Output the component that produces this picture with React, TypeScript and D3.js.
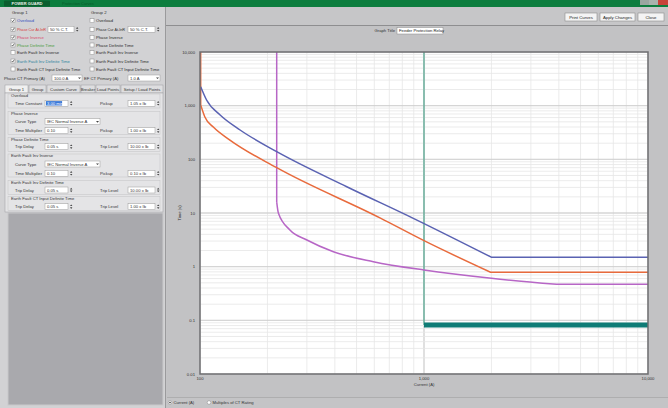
import React from 'react';
import * as d3 from 'd3';

const W = 668;
const H = 408;

// ---- Data (current in A, time in s) ----
const overloadCurrent = [100.7, 107, 123, 151, 220, 452, 896, 2005, 10000];
const overloadTime = [2254, 1274, 670, 352, 139, 30.9, 7.96, 1.49, 1.49];
const phaseInvCurrent = [100.7, 100.7, 105, 115, 136, 220, 636, 1000, 1985, 10000];
const phaseInvTime = [10000, 1028, 622, 395, 229, 69.8, 8.1, 3.05, 0.785, 0.785];
const earthInvCurrent = [220, 220, 224, 252, 300, 394, 594, 1000, 2000, 3908, 10000];
const earthInvTime = [10000, 16, 9.87, 4.82, 3.14, 1.9, 1.24, 0.866, 0.607, 0.469, 0.469];
const defTimeCurrent = [1000, 1000, 10000];
const defTimeTime = [10000, 0.082, 0.082];

const xTicks = [100, 1000, 10000];
const xTickLabels = ['100', '1,000', '10,000'];
const yTicks = [0.01, 0.1, 1, 10, 100, 1000, 10000];
const yTickLabels = ['0.01', '0.1', '1', '10', '100', '1,000', '10,000'];

const group1Labels = ['Overload', 'Phase Cur At-InR', 'Phase Inverse', 'Phase Definite Time', 'Earth Fault Inv Inverse', 'Earth Fault Inv Definite Time', 'Earth Fault CT Input Definite Time'];
const group1Checked = [true, true, true, true, false, true, false];
const group1Colors = ['#3550c0', '#d83a3a', '#d8486a', '#4c9c3c', '#2a2a2a', '#2f86a0', '#2a2a2a'];
const group2Labels = ['Overload', 'Phase Cur At-InR', 'Phase Inverse', 'Phase Definite Time', 'Earth Fault Inv Inverse', 'Earth Fault Inv Definite Time', 'Earth Fault CT Input Definite Time'];
const tabLabels = ['Group 1', 'Group', 'Custom Curve', 'Breaker', 'Load Points', 'Setup / Load Points'];

const FONT = '"Liberation Sans", Arial, sans-serif';

// plot geometry
const PL = 200, PR = 648, PT = 52, PB = 374;

function Check({ x, y, checked }: { x: number; y: number; checked: boolean }) {
  return (
    <g>
      <rect x={x} y={y - 2} width={4} height={4} fill="#fff" stroke="#8a8a8a" strokeWidth={0.5} />
      {checked && <path d={`M${x + 0.8},${y} L${x + 1.7},${y + 1.1} L${x + 3.3},${y - 1.3}`} fill="none" stroke="#333" strokeWidth={0.7} />}
    </g>
  );
}

function Field({ x, y, w, text, spin, drop, sel }: { x: number; y: number; w: number; text: string; spin?: boolean; drop?: boolean; sel?: boolean }) {
  return (
    <g>
      <rect x={x} y={y - 3} width={w} height={6} fill="#fff" stroke="#9a9a9a" strokeWidth={0.5} />
      {sel && <rect x={x + 1} y={y - 2.2} width={w * 0.7} height={4.4} fill="#3a78d8" />}
      <text x={x + 2} y={y + 1.6} fontSize={4.2} fill={sel ? '#fff' : '#333'}>{text}</text>
      {spin && (
        <g>
          <path d={`M${x + w + 2},${y - 0.6} l1.2,-1.6 l1.2,1.6 z`} fill="#444" />
          <path d={`M${x + w + 2},${y + 0.6} l1.2,1.6 l1.2,-1.6 z`} fill="#444" />
        </g>
      )}
      {drop && <path d={`M${x + w - 4},${y - 0.6} l1.5,1.6 l1.5,-1.6 z`} fill="#444" />}
    </g>
  );
}

function Btn({ x, y, w, h, text }: { x: number; y: number; w: number; h: number; text: string }) {
  return (
    <g>
      <rect x={x} y={y} width={w} height={h} fill="#f4f4f4" stroke="#8c8c8c" strokeWidth={0.6} />
      <text x={x + w / 2} y={y + h / 2 + 1.5} fontSize={4.3} textAnchor="middle" fill="#222">{text}</text>
    </g>
  );
}

export default function App() {
  const x = d3.scaleLog().domain([100, 10000]).range([PL, PR]);
  const y = d3.scaleLog().domain([0.01, 10000]).range([PB, PT]);

  const xGrid: number[] = [];
  for (let d = 100; d < 10000; d *= 10) for (let m = 1; m <= 10; m++) xGrid.push(d * m);
  const yGrid: number[] = [];
  for (let d = 0.01; d < 10000; d *= 10) for (let m = 1; m <= 10; m++) yGrid.push(+(d * m).toPrecision(6));
  const isMajor = (v: number) => Math.abs(Math.log10(v) - Math.round(Math.log10(v))) < 1e-6;

  const lin = d3.line<[number, number]>().curve(d3.curveLinear);
  const mono = d3.line<[number, number]>().curve(d3.curveMonotoneX);
  const pathFor = (cur: number[], time: number[], s0: number, s1: number) => {
    const pts = cur.map((c, i) => [x(c), y(time[i])] as [number, number]);
    let d = '';
    if (s0 > 0) d += lin(pts.slice(0, s0 + 1));
    d += mono(pts.slice(s0, s1 + 1));
    if (s1 < pts.length - 1) d += lin(pts.slice(s1));
    return d;
  };

  const rows = [20.7, 29.3, 37.3, 45, 52.7, 61, 69];

  const sections = [
    { title: 'Overload', y: 96 },
    { title: 'Phase Inverse', y: 113.3 },
    { title: 'Phase Definite Time', y: 139.3 },
    { title: 'Earth Fault Inv Inverse', y: 156 },
    { title: 'Earth Fault Inv Definite Time', y: 182.3 },
    { title: 'Earth Fault CT Input Definite Time', y: 198.3 },
  ];

  return (
    <svg width={W} height={H} style={{ position: 'fixed', left: 0, top: 0, display: 'block' }} fontFamily={FONT}>
      {/* window background */}
      <rect x={0} y={0} width={W} height={H} fill="#c4c4c6" />
      {/* title bar */}
      <rect x={0} y={0} width={W} height={7} fill="#0c7d3e" />
      <rect x={4} y={0.5} width={46} height={6} fill="#0a5e2e" rx={1} />
      <text x={27} y={5} fontSize={4} fill="#e8f0e8" textAnchor="middle" fontWeight="bold">POWER GUARD</text>
      <text x={62} y={5} fontSize={4} fill="#075a2a">Protection Curves</text>
      <rect x={640} y={0} width={9} height={5} fill="#9aa6a0" />
      <rect x={649} y={0} width={9} height={5} fill="#a9b2ad" />
      <rect x={658} y={0} width={10} height={5} fill="#c8423a" />

      {/* left panel */}
      <rect x={0} y={7} width={166} height={H - 7} fill="#d2d2d4" />
      <rect x={8} y={213} width={155} height={192} fill="#a9a9ad" stroke="#c8c8ca" strokeWidth={1} />
      <line x1={165.5} y1={7} x2={165.5} y2={H} stroke="#9a9a9c" strokeWidth={1} />

      <text x={12} y={14} fontSize={4.3} fill="#333">Group 1</text>
      <text x={91} y={14} fontSize={4.3} fill="#333">Group 2</text>
      {group1Labels.map((l, i) => (
        <g key={'g1' + i}>
          <Check x={11} y={rows[i]} checked={group1Checked[i]} />
          <text x={17} y={rows[i] + 1.5} fontSize={4.2} fill={group1Colors[i]} textLength={i === 1 ? 29 : undefined} lengthAdjust="spacingAndGlyphs">{l}</text>
        </g>
      ))}
      {group2Labels.map((l, i) => (
        <g key={'g2' + i}>
          <Check x={90} y={rows[i]} checked={false} />
          <text x={96} y={rows[i] + 1.5} fontSize={4.2} fill="#2a2a2a" textLength={i === 1 ? 29 : undefined} lengthAdjust="spacingAndGlyphs">{l}</text>
        </g>
      ))}
      <Field x={48} y={rows[1]} w={26} text="50 % C.T." spin />
      <Field x={128} y={rows[1]} w={27} text="50 % C.T." spin />

      <text x={4} y={79.5} fontSize={4.2} fill="#333">Phase CT Primary (A)</text>
      <Field x={52} y={78} w={30} text="100.0 A" drop />
      <text x={84} y={79.5} fontSize={4.2} fill="#333">EF CT Primary (A)</text>
      <Field x={128} y={78} w={32} text="1.0 A" drop />

      {/* tabs */}
      {(() => {
        const tx = [5, 29, 47, 81, 96, 121, 164];
        return tabLabels.map((t, i) => (
          <g key={'tab' + i}>
            <rect x={tx[i]} y={85} width={tx[i + 1] - tx[i] - 1} height={8} fill={i === 0 ? '#f0f0f0' : '#dedee0'} stroke="#9c9c9e" strokeWidth={0.5} />
            <text x={(tx[i] + tx[i + 1] - 1) / 2} y={90.5} fontSize={4.2} textAnchor="middle" fill="#333">{t}</text>
          </g>
        ));
      })()}
      <rect x={5} y={93} width={158} height={119} fill="#e4e4e6" stroke="#9c9c9e" strokeWidth={0.5} />
      {sections.map((s, i) => (
        <g key={'sec' + i}>
          <rect x={8} y={s.y - 2} width={152} height={i === 1 || i === 3 ? 23 : 14} fill="none" stroke="#c2c2c4" strokeWidth={0.5} />
          <text x={11} y={s.y + 1.2} fontSize={4.2} fill="#333">{s.title}</text>
        </g>
      ))}
      {/* overload */}
      <text x={15} y={104.8} fontSize={4.2} fill="#333">Time Constant</text>
      <Field x={45} y={103.3} w={23} text="3.00 min" spin sel />
      <text x={100} y={104.8} fontSize={4.2} fill="#333">Pickup</text>
      <Field x={128} y={103.3} w={27} text="1.05 x Ib" spin />
      {/* phase inverse */}
      <text x={15} y={123.2} fontSize={4.2} fill="#333">Curve Type</text>
      <Field x={45} y={121.7} w={55} text="IEC Normal Inverse A" drop />
      <text x={15} y={132.2} fontSize={4.2} fill="#333">Time Multiplier</text>
      <Field x={45} y={130.7} w={23} text="0.10" spin />
      <text x={100} y={132.2} fontSize={4.2} fill="#333">Pickup</text>
      <Field x={128} y={130.7} w={27} text="1.00 x Ib" spin />
      {/* phase DT */}
      <text x={15} y={148.2} fontSize={4.2} fill="#333">Trip Delay</text>
      <Field x={45} y={146.7} w={23} text="0.05 s" spin />
      <text x={100} y={148.2} fontSize={4.2} fill="#333">Trip Level</text>
      <Field x={128} y={146.7} w={27} text="10.00 x Ib" spin />
      {/* EF inverse */}
      <text x={15} y={165.5} fontSize={4.2} fill="#333">Curve Type</text>
      <Field x={45} y={164} w={55} text="IEC Normal Inverse A" drop />
      <text x={15} y={174.8} fontSize={4.2} fill="#333">Time Multiplier</text>
      <Field x={45} y={173.3} w={23} text="0.10" spin />
      <text x={100} y={174.8} fontSize={4.2} fill="#333">Pickup</text>
      <Field x={128} y={173.3} w={27} text="0.10 x Ib" spin />
      {/* EF DT */}
      <text x={15} y={191.5} fontSize={4.2} fill="#333">Trip Delay</text>
      <Field x={45} y={190} w={23} text="0.05 s" spin />
      <text x={100} y={191.5} fontSize={4.2} fill="#333">Trip Level</text>
      <Field x={128} y={190} w={27} text="10.00 x Ib" spin />
      {/* EF CT DT */}
      <text x={15} y={208.2} fontSize={4.2} fill="#333">Trip Delay</text>
      <Field x={45} y={206.7} w={23} text="0.05 s" spin />
      <text x={100} y={208.2} fontSize={4.2} fill="#333">Trip Level</text>
      <Field x={128} y={206.7} w={27} text="1.00 x Ib" spin />

      {/* right toolbar */}
      <rect x={166} y={7} width={W - 166} height={18} fill="#c6c6c8" />
      <line x1={166} y1={25.5} x2={W} y2={25.5} stroke="#8e8e90" strokeWidth={1} />
      <Btn x={565} y={13} w={32} h={8} text="Print Curves" />
      <Btn x={600} y={13} w={35} h={8} text="Apply Changes" />
      <Btn x={638} y={13} w={26} h={8} text="Close" />

      {/* chart panel */}
      <rect x={167} y={26} width={W - 167} height={371} fill="#c2c2c4" />
      <text x={395} y={32.2} fontSize={4.2} textAnchor="end" fill="#333">Graph Title</text>
      <rect x={397} y={27.5} width={46} height={6.5} fill="#fff" stroke="#8a8a8a" strokeWidth={0.5} />
      <text x={399} y={32.2} fontSize={4.2} fill="#222">Feeder Protection Relay</text>

      {/* plot */}
      <rect x={PL} y={PT} width={PR - PL} height={PB - PT} fill="#fff" />
      {xGrid.map((v, i) => (
        <line key={'xg' + i} x1={x(v)} x2={x(v)} y1={PT} y2={PB} stroke={isMajor(v) ? '#cfcfcf' : '#e6e6e6'} strokeWidth={0.8} />
      ))}
      {yGrid.map((v, i) => (
        <line key={'yg' + i} x1={PL} x2={PR} y1={y(v)} y2={y(v)} stroke={isMajor(v) ? '#cfcfcf' : '#e6e6e6'} strokeWidth={0.8} />
      ))}
      <defs>
        <clipPath id="plotclip"><rect x={PL} y={PT} width={PR - PL} height={PB - PT} /></clipPath>
      </defs>
      <g clipPath="url(#plotclip)" fill="none" strokeLinejoin="round">
        <path d={lin(defTimeCurrent.slice(0, 2).map((c, i) => [x(c), y(defTimeTime[i])] as [number, number])) || ''} stroke="#4fa58e" strokeWidth={1.2} />
        <path d={lin(defTimeCurrent.slice(1).map((c, i) => [x(c), y(defTimeTime[i + 1])] as [number, number])) || ''} stroke="#0f7c76" strokeWidth={5} />
        <path d={pathFor(earthInvCurrent, earthInvTime, 1, 9)} stroke="#b766c6" strokeWidth={1.5} />
        <path d={pathFor(phaseInvCurrent, phaseInvTime, 1, 8)} stroke="#e86a3c" strokeWidth={1.5} />
        <path d={pathFor(overloadCurrent, overloadTime, 0, 7)} stroke="#5a62b2" strokeWidth={1.5} />
      </g>
      <rect x={PL} y={PT} width={PR - PL} height={PB - PT} fill="none" stroke="#6e6e70" strokeWidth={1.5} />

      {/* axes labels */}
      {yTicks.map((v, i) => (
        <text key={'yt' + i} x={195} y={y(v) + 1.5} fontSize={4.2} textAnchor="end" fill="#333">{yTickLabels[i]}</text>
      ))}
      {xTicks.map((v, i) => (
        <text key={'xt' + i} x={x(v)} y={380} fontSize={4.2} textAnchor="middle" fill="#333">{xTickLabels[i]}</text>
      ))}
      <text x={x(1000)} y={386} fontSize={4.2} textAnchor="middle" fill="#333">Current (A)</text>
      <text x={181} y={213} fontSize={4.2} textAnchor="middle" fill="#333" transform="rotate(-90 181 213)">Time (s)</text>

      {/* bottom legend radios */}
      <line x1={167} y1={397.5} x2={W} y2={397.5} stroke="#a8a8aa" strokeWidth={0.8} />
      <circle cx={170} cy={402.5} r={1.8} fill="#fff" stroke="#888" strokeWidth={0.5} />
      <circle cx={170} cy={402.5} r={0.8} fill="#333" />
      <text x={173.5} y={404} fontSize={4.2} fill="#333">Current (A)</text>
      <circle cx={209} cy={402.5} r={1.8} fill="#fff" stroke="#888" strokeWidth={0.5} />
      <text x={212.5} y={404} fontSize={4.2} fill="#333">Multiples of CT Rating</text>
    </svg>
  );
}
